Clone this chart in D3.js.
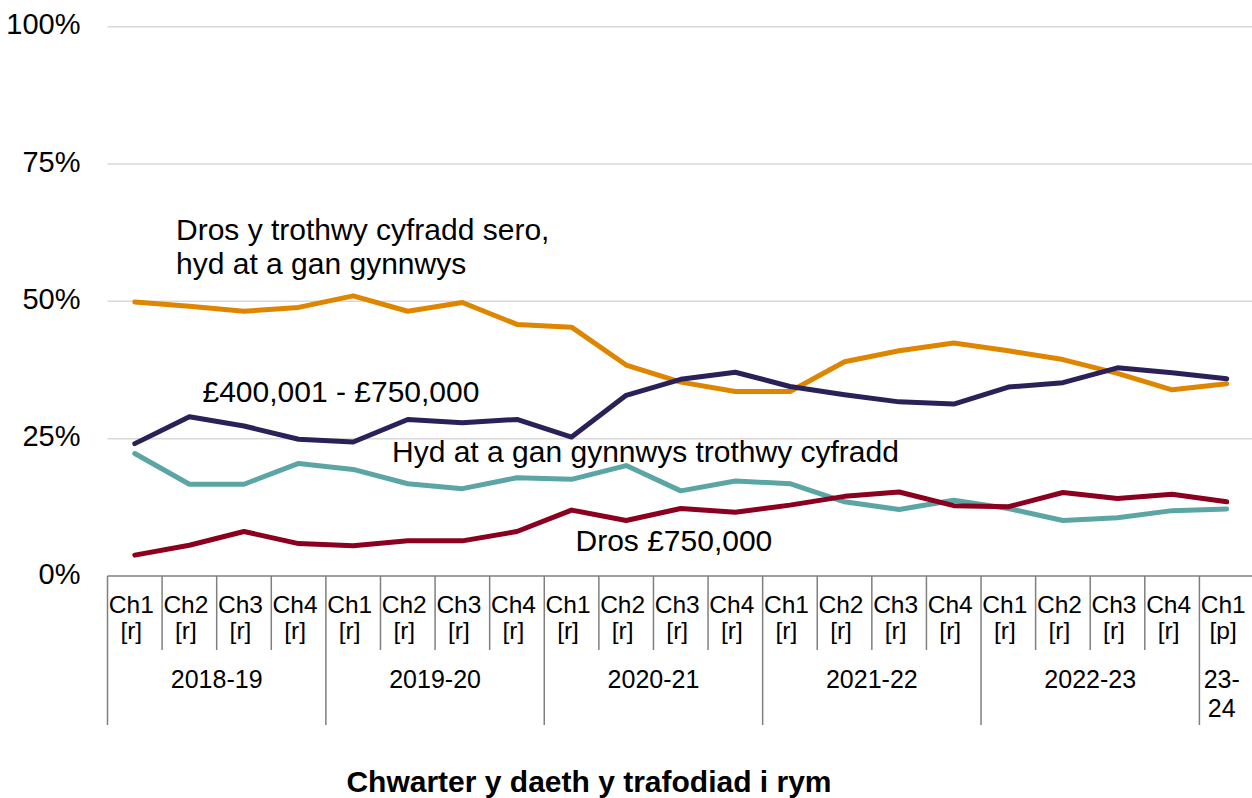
<!DOCTYPE html>
<html>
<head>
<meta charset="utf-8">
<script src="https://cdn.jsdelivr.net/npm/d3@7"></script>
<style>
  body { margin: 0; background: #fff; }
  svg { display: block; font-family: Arial, "Liberation Sans", sans-serif; }
</style>
</head>
<body>
<div class="displayArea"></div>
<script>
// data (percentages)
const years = ["2018-19", "2019-20", "2020-21", "2021-22", "2022-23", "23-24"];
const quartersPerYear = [4, 4, 4, 4, 4, 1];
const quarterLabels = ["Ch1", "Ch2", "Ch3", "Ch4", "Ch1", "Ch2", "Ch3", "Ch4", "Ch1", "Ch2", "Ch3", "Ch4",
    "Ch1", "Ch2", "Ch3", "Ch4", "Ch1", "Ch2", "Ch3", "Ch4", "Ch1"];
const quarterFlags = ["[r]", "[r]", "[r]", "[r]", "[r]", "[r]", "[r]", "[r]", "[r]", "[r]", "[r]", "[r]",
    "[r]", "[r]", "[r]", "[r]", "[r]", "[r]", "[r]", "[r]", "[p]"];
const yTicks = [0, 25, 50, 75, 100];

const overZeroUpTo = [49.9, 49.1, 48.2, 48.9, 51.0, 48.2, 49.8, 45.8, 45.3, 38.4, 35.3, 33.6, 33.6, 39.0, 41.0, 42.4, 41.0, 39.4, 36.9, 33.9, 35.0];
const band400to750 = [24.1, 29.0, 27.3, 24.9, 24.4, 28.5, 27.9, 28.5, 25.3, 32.9, 35.8, 37.1, 34.5, 33.0, 31.7, 31.3, 34.4, 35.2, 37.9, 37.0, 35.9];
const upToThreshold = [22.3, 16.7, 16.7, 20.5, 19.4, 16.8, 15.9, 17.9, 17.6, 20.1, 15.5, 17.3, 16.8, 13.5, 12.1, 13.8, 12.3, 10.1, 10.6, 11.9, 12.2];
const over750 = [3.8, 5.6, 8.1, 5.9, 5.5, 6.4, 6.4, 8.1, 12.0, 10.1, 12.3, 11.6, 12.9, 14.5, 15.3, 12.8, 12.6, 15.2, 14.1, 14.9, 13.5];

const seriesList = [
    { values: upToThreshold, color: "#5BA5A4" },
    { values: over750, color: "#8B001E" },
    { values: overZeroUpTo, color: "#DE8600" },
    { values: band400to750, color: "#2B2159" }
];

const W = 1252, H = 798;
const svg = d3.select(".displayArea").append("svg")
    .attr("width", W)
    .attr("height", H);

const idx = d3.range(quarterLabels.length);
const x = d3.scaleBand().domain(idx).range([107.5, 1254]).paddingInner(0).paddingOuter(0);
const y = d3.scaleLinear().domain([0, 100]).range([576, 26.7]);

// gridlines
svg.append("g").selectAll("line")
    .data(yTicks.filter(d => d > 0))
    .enter().append("line")
    .attr("x1", 107.5).attr("x2", W)
    .attr("y1", d => y(d)).attr("y2", d => y(d))
    .style("stroke", "#d9d9d9")
    .style("stroke-width", 1.5);

// y labels
svg.append("g").selectAll("text")
    .data(yTicks)
    .enter().append("text")
    .attr("x", 80.5)
    .attr("y", d => y(d) + 7.5)
    .attr("text-anchor", "end")
    .style("font-size", "29px")
    .style("fill", "#000")
    .text(d => d + "%");

// x axis with two level labels
const axisG = svg.append("g");
const axisColor = "#7f7f7f";
axisG.append("line")
    .attr("x1", 107.5).attr("x2", W)
    .attr("y1", 576).attr("y2", 576)
    .style("stroke", axisColor).style("stroke-width", 1.5);

const yearStarts = [];
let acc = 0;
quartersPerYear.forEach(n => { yearStarts.push(acc); acc += n; });

const bounds = d3.range(quarterLabels.length + 1);
axisG.selectAll(".qsep")
    .data(bounds)
    .enter().append("line")
    .attr("class", "qsep")
    .attr("x1", d => d < quarterLabels.length ? x(d) : x(d - 1) + x.bandwidth())
    .attr("x2", d => d < quarterLabels.length ? x(d) : x(d - 1) + x.bandwidth())
    .attr("y1", 576)
    .attr("y2", d => (yearStarts.includes(d) || d === quarterLabels.length) ? 725 : 650)
    .style("stroke", axisColor).style("stroke-width", 1.5);

// quarter labels sit a little left of the band centre, as in the original
const labelShift = -3.5;

axisG.selectAll(".qlab")
    .data(idx)
    .enter().append("text")
    .attr("class", "qlab")
    .attr("x", d => x(d) + x.bandwidth() / 2 + labelShift)
    .attr("y", 612.5)
    .attr("text-anchor", "middle")
    .style("font-size", "24.5px")
    .text(d => quarterLabels[d]);

axisG.selectAll(".qflag")
    .data(idx)
    .enter().append("text")
    .attr("class", "qflag")
    .attr("x", d => x(d) + x.bandwidth() / 2 + labelShift)
    .attr("y", 639)
    .attr("text-anchor", "middle")
    .style("font-size", "24.5px")
    .text(d => quarterFlags[d]);

const yearLabels = axisG.selectAll(".ylab")
    .data(years)
    .enter().append("text")
    .attr("class", "ylab")
    .attr("text-anchor", "middle")
    .style("font-size", "25px")
    .attr("transform", (d, i) => {
        const s = yearStarts[i], n = quartersPerYear[i];
        const cx = (x(s) + x(s + n - 1) + x.bandwidth()) / 2 + (n === 1 ? -5 : 0);
        return `translate(${cx},688)`;
    });

yearLabels.each(function (d) {
    const parts = d.length === 5 ? [d.slice(0, 3), d.slice(3)] : [d];
    d3.select(this).selectAll("tspan")
        .data(parts)
        .enter().append("tspan")
        .attr("x", 0)
        .attr("dy", (p, j) => j === 0 ? 0 : 28.5)
        .text(p => p);
});

// axis title
svg.append("text")
    .attr("x", 589)
    .attr("y", 792)
    .attr("text-anchor", "middle")
    .style("font-size", "30px")
    .style("font-weight", "bold")
    .text("Chwarter y daeth y trafodiad i rym");

// lines
const line = d3.line()
    .x((d, i) => x(i) + x.bandwidth() / 2)
    .y(d => y(d));

svg.append("g").selectAll("path")
    .data(seriesList)
    .enter().append("path")
    .attr("d", d => line(d.values))
    .style("fill", "none")
    .style("stroke", d => d.color)
    .style("stroke-width", 5)
    .style("stroke-linejoin", "round")
    .style("stroke-linecap", "round");

// series labels
const labels = [
    { lines: ["Dros y trothwy cyfradd sero,", "hyd at a gan gynnwys"], x: 176, y: 239.5 },
    { lines: ["£400,001 - £750,000"], x: 202.5, y: 401.5 },
    { lines: ["Hyd at a gan gynnwys trothwy cyfradd"], x: 392, y: 461.5 },
    { lines: ["Dros £750,000"], x: 575.5, y: 551 }
];

labels.forEach(l => {
    const t = svg.append("text")
        .attr("x", l.x)
        .attr("y", l.y)
        .style("font-size", "30px")
        .style("fill", "#000");
    l.lines.forEach((s, j) => {
        t.append("tspan").attr("x", l.x).attr("dy", j === 0 ? 0 : 34).text(s);
    });
});
</script>
</body>
</html>
